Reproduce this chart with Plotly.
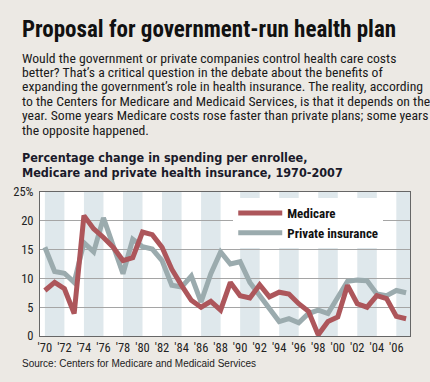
import plotly.graph_objects as go

years = list(range(1970, 2008))
medicare = [7.9, 9.3, 8.2, 3.9, 20.9, 18.6, 17.1, 15.4, 13.1, 13.6,
            18.05, 17.6, 15.4, 11.6, 8.8, 6.2, 5.0, 6.0, 4.5, 9.3,
            7.0, 6.6, 8.9, 6.8, 7.6, 7.3, 5.6, 4.3, 0.2, 2.5,
            3.3, 8.8, 5.6, 5.0, 7.0, 6.5, 3.4, 3.0]
private = [15.4, 11.2, 10.9, 9.3, 16.2, 14.6, 20.5, 15.9, 10.8, 16.8,
           15.5, 15.1, 13.1, 8.8, 8.5, 10.4, 5.9, 10.8, 14.6, 12.5,
           12.9, 9.3, 7.0, 5.0, 2.5, 3.0, 2.3, 3.9, 4.5, 3.9,
           6.8, 9.5, 9.7, 9.6, 7.3, 7.0, 7.9, 7.5]
x_tickvals = list(range(1970, 2007, 2))
x_ticktext = ["'%02d" % (y % 100) for y in x_tickvals]
y_tickvals = [0, 5, 10, 15, 20, 25]
y_ticktext = ["0", "5", "10", "15", "20", "25%"]

title = "Proposal for government-run health plan"
body = [
    "Would the government or private companies control health care costs",
    "better? That\u2019s a critical question in the debate about the benefits of",
    "expanding the government\u2019s role in health insurance. The reality, according",
    "to the Centers for Medicare and Medicaid Services, is that it depends on the",
    "year. Some years Medicare costs rose faster than private plans; some years",
    "the opposite happened.",
]
subtitle = [
    "Percentage change in spending per enrollee,",
    "Medicare and private health insurance, 1970-2007",
]
source = "Source: Centers for Medicare and Medicaid Services"

BG = "#ECE9E4"
BAND = "#DFE8EC"
RED = "#AD565B"
GRAY = "#9BABAE"
COND = "Roboto Condensed, DejaVu Sans Condensed, sans-serif"
DJC = "DejaVu Sans Condensed, Roboto Condensed, sans-serif"

W, H = 430, 382
L, R, T, B = 39.5, 20, 192, 46
pw, ph = W - L - R, H - T - B

def px(x):
    return (x - L) / pw

def py(y):
    return (H - B - y) / ph

fig = go.Figure()
fig.add_trace(go.Scatter(x=years, y=private, mode="lines", name="Private insurance",
                         line=dict(color=GRAY, width=5)))
fig.add_trace(go.Scatter(x=years, y=medicare, mode="lines", name="Medicare",
                         line=dict(color=RED, width=5)))

shapes = []
for s in range(1970, 2008, 4):
    shapes.append(dict(type="rect", xref="x", yref="paper", x0=s, x1=min(s + 2, 2007.4),
                       y0=0, y1=1, fillcolor=BAND, line=dict(width=0), layer="below"))

ann = []
ann.append(dict(text="<b>" + title + "</b>", x=px(19), y=py(29.5), xref="paper", yref="paper",
                xanchor="left", yanchor="middle", showarrow=False,
                font=dict(family=COND, size=23, color="#111")))
for i, line in enumerate(body):
    ann.append(dict(text=line, x=px(19), y=py(57.5 + i * 14.4), xref="paper", yref="paper",
                    xanchor="left", yanchor="middle", showarrow=False,
                    font=dict(family=COND, size=13.7, color="#1a1a1a")))
for i, line in enumerate(subtitle):
    ann.append(dict(text="<b>" + line + "</b>", x=px(19), y=py(157 + i * 15), xref="paper", yref="paper",
                    xanchor="left", yanchor="middle", showarrow=False,
                    font=dict(family=DJC, size=12.5, color="#1a1a2a")))
ann.append(dict(text=source, x=px(19), y=py(363), xref="paper", yref="paper",
                xanchor="left", yanchor="middle", showarrow=False,
                font=dict(family="Liberation Sans, Arial, sans-serif", size=10, color="#222")))

fig.update_layout(
    width=W, height=H,
    margin=dict(l=L, r=R, t=T, b=B),
    paper_bgcolor=BG, plot_bgcolor="white",
    shapes=shapes, annotations=ann,
    showlegend=True,
    legend=dict(x=px(233), y=py(198), xanchor="left", yanchor="top",
                bgcolor="white", traceorder="reversed",
                font=dict(family=COND, size=13, color="#111", weight="bold"),
                itemwidth=44, borderwidth=0),
    xaxis=dict(range=[1969.5, 2007.4], tickvals=x_tickvals, ticktext=x_ticktext,
               tickangle=0, showgrid=False, zeroline=False, showline=True,
               linecolor="#666", linewidth=1, mirror=True, ticks="",
               ticklabelstandoff=0,
               tickfont=dict(family=COND, size=12.5, color="#222")),
    yaxis=dict(range=[0, 25], tickvals=y_tickvals, ticktext=y_ticktext,
               showgrid=True, gridcolor="#A5A5A5", gridwidth=1, zeroline=False,
               showline=True, linecolor="#666", linewidth=1, mirror=True, ticks="",
               ticklabelstandoff=3,
               tickfont=dict(family=COND, size=12.5, color="#222")),
)

fig.write_html("out.html", config={"displayModeBar": False},
               post_script="document.body.style.margin='0';document.body.style.background='%s';" % BG)
